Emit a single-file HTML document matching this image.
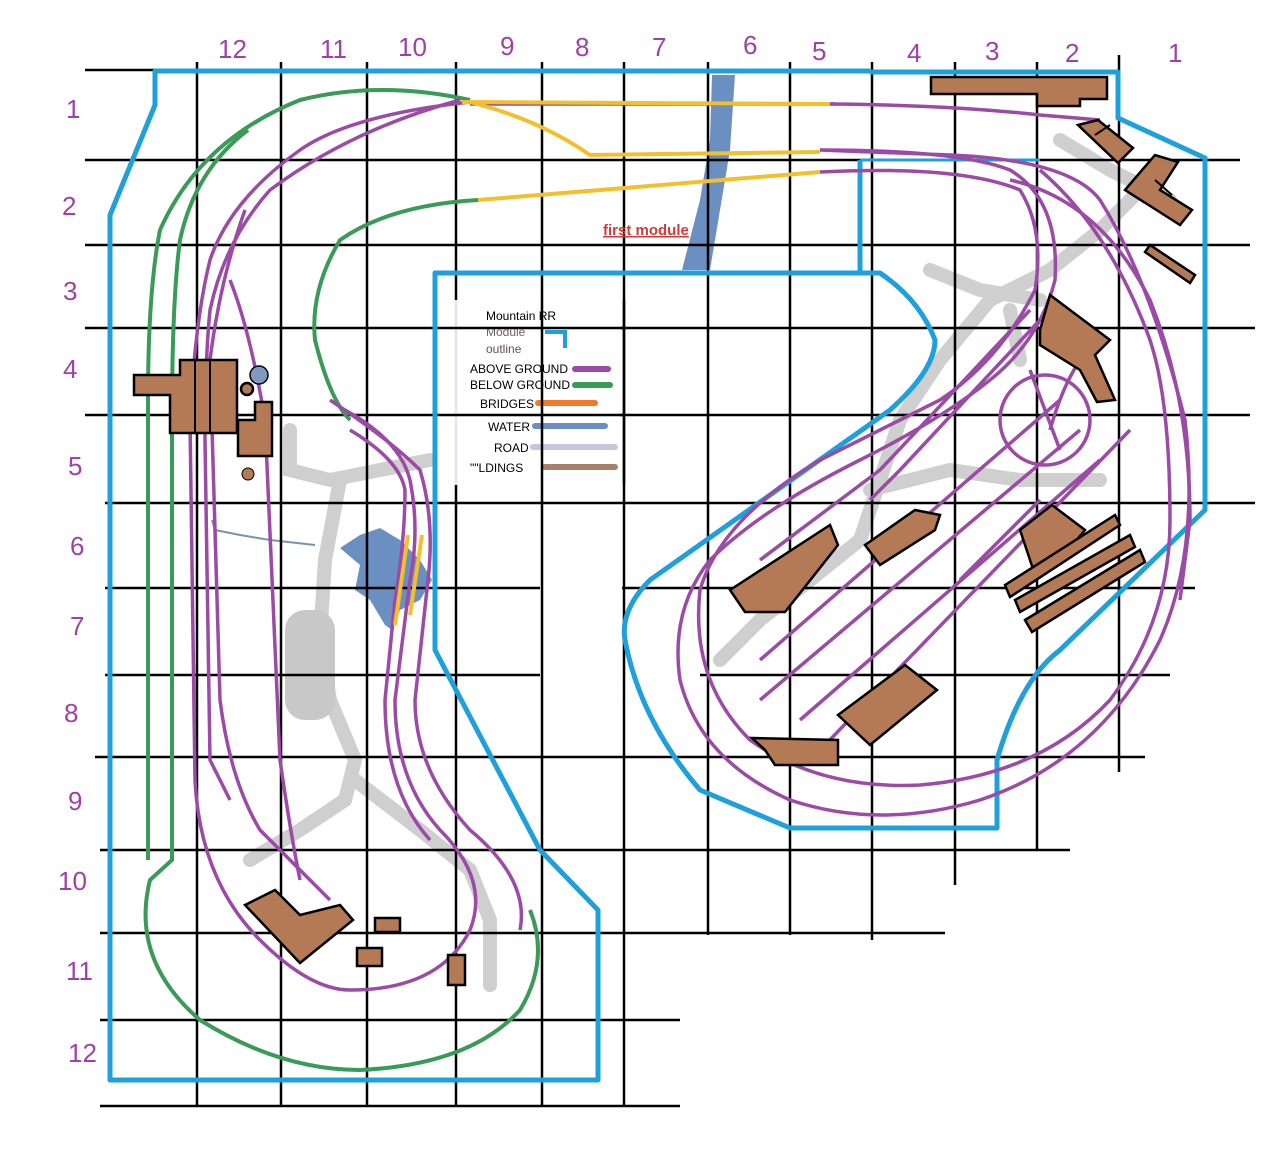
<!DOCTYPE html>
<html><head><meta charset="utf-8"><style>
html,body{margin:0;padding:0;background:#fff;width:1286px;height:1171px;overflow:hidden}
svg{display:block}
text{font-family:"Liberation Sans",sans-serif}
</style></head><body>
<svg width="1286" height="1171" viewBox="0 0 1286 1171" xmlns="http://www.w3.org/2000/svg">
<g fill="none" stroke="#cfcfcf" stroke-width="14" stroke-linecap="round">
<path d="M290 430 L290 470 L330 480 L430 460"/>
<path d="M340 480 L325 560 L320 640 L330 700 L355 760 L345 800 L300 830 L250 860"/>
<path d="M355 780 L420 830 L470 870 L490 920 L490 985"/>
<path d="M720 660 L760 620 L810 580 L860 540 L880 480 L900 420 L940 360 L990 300 L1050 270 L1100 230 L1140 190"/>
<path d="M930 270 L980 290 L1040 300"/>
<path d="M870 490 L950 470 L1020 480 L1100 480"/>
<path d="M1060 140 L1110 170 L1170 200"/>
<path d="M1010 310 L1020 360"/>
</g>
<rect x="285" y="610" width="50" height="110" rx="20" fill="#c8c8c8"/>
<path d="M712 75 L735 75 L730 150 L720 210 L710 270 L682 270 L700 200 L710 140 Z" fill="#6b8fc0"/>
<path d="M340 548 L360 535 L380 528 L400 540 L420 560 L432 580 L420 600 L400 610 L392 630 L385 625 L370 600 L355 590 L360 565 Z" fill="#6b8fc0"/>
<path d="M212 520 L215 530 L240 535 L270 540 L315 545" fill="none" stroke="#7a93a8" stroke-width="2"/>
<g stroke="#000" stroke-width="2.5">
<line x1="85" y1="70" x2="870" y2="70"/>
<line x1="197" y1="62" x2="197" y2="1106"/>
<line x1="281" y1="62" x2="281" y2="1106"/>
<line x1="367" y1="62" x2="367" y2="1106"/>
<line x1="456" y1="62" x2="456" y2="1106"/>
<line x1="542" y1="62" x2="542" y2="1106"/>
<line x1="624" y1="62" x2="624" y2="1106"/>
<line x1="708" y1="62" x2="708" y2="935"/>
<line x1="790" y1="62" x2="790" y2="935"/>
<line x1="872" y1="62" x2="872" y2="940"/>
<line x1="955" y1="62" x2="955" y2="885"/>
<line x1="1037" y1="62" x2="1037" y2="850"/>
<line x1="1119" y1="55" x2="1119" y2="772"/>
<line x1="85" y1="160" x2="1240" y2="160"/>
<line x1="85" y1="245" x2="1250" y2="245"/>
<line x1="85" y1="328" x2="1255" y2="328"/>
<line x1="85" y1="415" x2="1250" y2="415"/>
<line x1="105" y1="503" x2="1255" y2="503"/>
<line x1="105" y1="588" x2="540" y2="588"/>
<line x1="622" y1="588" x2="1195" y2="588"/>
<line x1="105" y1="675" x2="540" y2="675"/>
<line x1="700" y1="675" x2="1170" y2="675"/>
<line x1="95" y1="757" x2="1145" y2="757"/>
<line x1="100" y1="850" x2="1070" y2="850"/>
<line x1="100" y1="933" x2="945" y2="933"/>
<line x1="100" y1="1020" x2="680" y2="1020"/>
<line x1="100" y1="1106" x2="680" y2="1106"/>
</g>
<g fill="none" stroke="#1ea0dc" stroke-width="5" stroke-linejoin="round">
<path d="M870 71 L155 71 L155 105 L110 215 L110 1080 L598 1080 L598 910 L540 850 L435 650 L435 273 L880 273 Q920 300 935 340 Q935 370 890 410 L650 580 Q620 610 625 640 Q640 720 700 790 L790 828 L997 828 L997 760 Q1020 680 1060 650 L1205 510 L1205 158 L1118 118 L1118 72 L870 72"/>
<path d="M860 160 L860 273"/>
<path d="M860 160 L1040 160" stroke-width="3"/>
</g>
<g fill="none" stroke="#3a9a58" stroke-width="4">
<path d="M470 100 Q380 80 300 100 Q200 140 160 230 Q148 290 148 400 L148 860"/>
<path d="M248 130 Q195 170 180 240 Q172 300 172 420 L172 860 L150 880 Q130 960 200 1020 Q280 1070 360 1070 Q470 1065 520 1010 Q550 960 530 910"/>
<path d="M478 200 Q390 205 340 240 Q310 290 315 340 Q330 400 350 420"/>
</g>
<g fill="none" stroke="#9b4aa6" stroke-width="3.5">
<path d="M470 102 Q350 115 300 150 Q230 200 210 260 Q195 320 190 420 L195 780 Q200 880 260 940 Q310 990 350 990 Q440 990 470 930"/>
<path d="M460 100 Q350 130 270 190 Q225 240 210 310 Q205 360 205 440 L210 760 L230 800"/>
<path d="M245 210 Q220 280 210 360 L220 700 Q230 780 260 830 L330 900"/>
<path d="M230 280 Q250 330 265 420 L280 760 Q290 830 300 880"/>
<path d="M835 104 L470 104"/>
<path d="M830 104 Q950 105 1040 115 L1100 120"/>
<path d="M820 150 Q960 150 1010 170 Q1060 200 1055 280 Q1040 340 990 380 Q940 420 860 460 Q760 510 710 560 Q670 610 680 680 Q700 760 790 800 Q880 830 980 800 Q1100 760 1160 640 Q1200 550 1185 420 Q1150 280 1100 200 Q1070 160 950 155 L820 150"/>
<path d="M820 172 Q960 165 1020 190 Q1045 230 1035 290 Q1000 360 940 400 L820 460 Q720 520 700 590 Q690 680 750 740 Q820 790 920 785 Q1040 775 1110 700 Q1170 620 1170 520 Q1170 400 1150 340 Q1110 230 1040 170"/>
<path d="M1010 180 Q1100 200 1150 300 Q1190 400 1190 520 L1180 600"/>
<path d="M1030 310 L880 470 Q800 530 760 560"/>
<path d="M1040 320 L900 470 L870 500"/>
<path d="M1060 400 L760 660"/>
<path d="M1080 430 L760 700"/>
<path d="M1100 460 L800 720"/>
<path d="M1130 430 L820 750"/>
<path d="M1040 500 L960 580"/>
<circle cx="1045" cy="420" r="45"/>
<path d="M1030 370 L1060 450"/>
<path d="M1050 430 Q1070 360 1100 340"/>
<path d="M345 410 Q400 440 410 480 Q420 530 410 580 L395 700 Q395 780 440 830 Q490 880 470 930"/>
<path d="M350 430 Q400 460 405 490 Q405 540 395 600 L385 700 Q385 790 430 840"/>
<path d="M330 400 Q390 440 420 470 Q435 520 428 580 L415 700 Q415 770 470 830 Q530 880 520 930"/>
</g>
<g fill="none" stroke="#f2c02c" stroke-width="4">
<path d="M462 102 L830 104"/>
<path d="M470 102 Q540 120 590 155 L820 152"/>
<path d="M478 200 L820 172"/>
<path d="M395 625 L408 535"/>
<path d="M410 615 L422 535"/>
</g>
<g fill="#b37a55" stroke="#000" stroke-width="2.5">
<path d="M931 77 L1107 77 L1107 99 L1080 99 L1080 106 L1037 106 L1037 94 L931 94 Z"/>
<path d="M1078 125 L1098 120 L1133 148 L1118 163 Z"/>
<path d="M1125 190 L1155 155 L1178 162 L1160 190 L1192 210 L1180 225 Z"/>
<path d="M1145 252 L1150 245 L1195 275 L1190 283 Z"/>
<path d="M1040 330 L1050 295 L1070 310 L1110 340 L1095 355 L1115 400 L1097 402 L1080 370 L1040 345 Z"/>
<path d="M1020 530 L1052 505 L1085 530 L1060 560 L1035 575 Z"/>
<path d="M1005 585 L1115 515 L1120 525 L1010 597 Z"/>
<path d="M1015 600 L1130 535 L1135 547 L1020 612 Z"/>
<path d="M1025 620 L1140 550 L1145 562 L1032 632 Z"/>
<path d="M730 590 L830 525 L838 545 L785 612 L745 612 Z"/>
<path d="M865 545 L915 510 L940 515 L935 530 L880 565 Z"/>
<path d="M838 715 L905 665 L937 690 L870 745 Z"/>
<path d="M752 738 L838 740 L838 765 L775 765 L765 750 Z"/>
<path d="M134 375 L180 375 L180 360 L237 360 L237 433 L170 433 L170 395 L134 395 Z"/>
<path d="M238 420 L255 420 L255 402 L272 402 L272 456 L238 456 Z"/>
<path d="M245 905 L275 890 L300 915 L340 905 L353 920 L300 963 Z"/>
<rect x="375" y="918" width="25" height="14"/>
<rect x="357" y="948" width="25" height="18"/>
<rect x="448" y="955" width="17" height="30"/>
<circle cx="247" cy="389" r="6"/>
<circle cx="248" cy="474" r="6" stroke-width="1"/>
</g>
<circle cx="259" cy="375" r="9" fill="#7f9ac0" stroke="#000" stroke-width="1.5"/>
<g stroke="#000" stroke-width="2"><line x1="195" y1="360" x2="195" y2="433"/><line x1="210" y1="360" x2="210" y2="433"/><line x1="1155" y1="180" x2="1172" y2="195"/><line x1="1095" y1="135" x2="1110" y2="125"/></g>
<rect x="450" y="300" width="170" height="185" fill="#fff" opacity="0.9"/>
<g font-size="12" fill="#000">
<text x="486" y="320">Mountain RR</text>
<text x="486" y="336" fill="#7a5a6a">Module</text>
<text x="486" y="353" fill="#6a4a5a">outline</text>
<text x="470" y="373">ABOVE GROUND</text>
<text x="470" y="389">BELOW GROUND</text>
<text x="480" y="408">BRIDGES</text>
<text x="488" y="431">WATER</text>
<text x="494" y="452">ROAD</text>
<text x="470" y="472">""LDINGS</text>
</g>
<path d="M545 332 L565 332 L565 348" fill="none" stroke="#1ea0dc" stroke-width="4"/>
<g stroke-width="6" stroke-linecap="round">
<line x1="575" y1="369" x2="608" y2="369" stroke="#9b4aa6"/>
<line x1="575" y1="385" x2="610" y2="385" stroke="#3a9a58"/>
<line x1="538" y1="403" x2="595" y2="403" stroke="#f07a2a"/>
<line x1="535" y1="426" x2="605" y2="426" stroke="#6b8fc0"/>
<line x1="533" y1="447" x2="615" y2="447" stroke="#c8c6dc"/>
<line x1="545" y1="467" x2="615" y2="467" stroke="#a8806a"/>
</g>
<g stroke="#000" stroke-width="2.5"><line x1="542" y1="300" x2="542" y2="485"/><line x1="450" y1="328" x2="624" y2="328"/><line x1="450" y1="415" x2="624" y2="415"/><line x1="624" y1="300" x2="624" y2="485"/></g>
<text x="603" y="235" font-size="15" font-weight="bold" fill="#d03a3a" text-decoration="underline">first module</text>
<g font-size="26" fill="#a040a8">
<text x="218" y="58">12</text><text x="320" y="58">11</text><text x="398" y="56">10</text>
<text x="500" y="55">9</text><text x="575" y="56">8</text><text x="652" y="56">7</text>
<text x="743" y="54">6</text><text x="812" y="60">5</text><text x="907" y="62">4</text>
<text x="985" y="60">3</text><text x="1065" y="62">2</text><text x="1168" y="62">1</text>
<text x="66" y="118">1</text><text x="62" y="215">2</text><text x="63" y="300">3</text>
<text x="63" y="378">4</text><text x="68" y="475">5</text><text x="70" y="555">6</text>
<text x="70" y="635">7</text><text x="64" y="722">8</text><text x="68" y="810">9</text>
<text x="58" y="890">10</text><text x="66" y="980">11</text><text x="68" y="1062">12</text>
</g>
</svg>
</body></html>
